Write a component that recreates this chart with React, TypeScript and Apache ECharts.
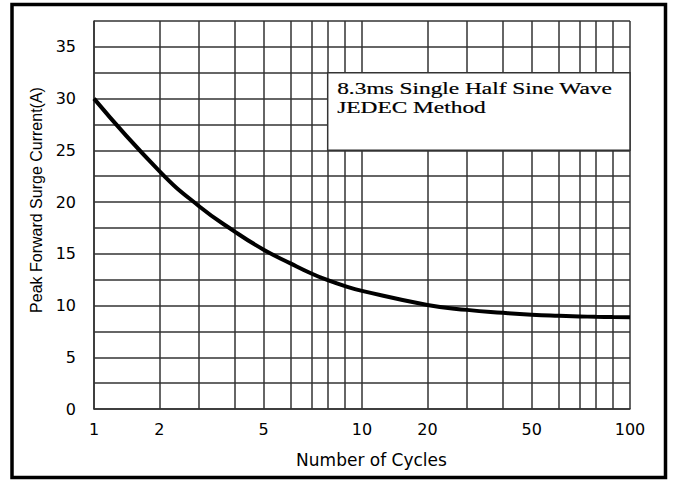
import React, { useEffect, useRef } from "react";
import * as echarts from "echarts";

// Number of cycles at which values were read (one per vertical grid line)
const cycles = [1, 2, 3, 4, 5, 6, 7, 8, 9, 10, 20, 30, 40, 50, 60, 70, 80, 90, 100];
// Peak forward surge current (A)
const surgeCurrent = [30, 23.0, 19.6, 17.15, 15.4, 14.05, 13.1, 12.45, 11.87, 11.42, 10.06, 9.58, 9.3, 9.12, 9.01, 8.95, 8.91, 8.88, 8.86];
// Labelled x ticks
const xTickLabels = [1, 2, 5, 10, 20, 50, 100];
// Y axis range / step
const yMin = 0;
const yMax = 37.5;
const yStep = 2.5;
const yLabelStep = 5;
// The printed chart's (non-ideal) logarithmic scale: where 1..10 sit within a decade
const decadeScale = [0, 0.244, 0.392, 0.525, 0.633, 0.735, 0.811, 0.872, 0.937, 1];

const noteLines = ["8.3ms Single Half Sine Wave", "JEDEC Method"];
const noteBox = { fromCycles: 8, toCycles: 100, fromA: 32.5, toA: 25 };

function toAxis(n: number): number {
  const d = Math.floor(Math.log10(n) + 1e-9);
  const base = Math.pow(10, d);
  const m = n / base;
  const i = Math.min(Math.floor(m + 1e-9), 9);
  const f = m - i;
  const lo = decadeScale[i - 1];
  const hi = decadeScale[i];
  return d + lo + (hi - lo) * f;
}

const GRID = "#333";

export default function App() {
  const ref = useRef<HTMLDivElement>(null);
  useEffect(() => {
    if (!ref.current) return;
    const chart = echarts.init(ref.current, null, { renderer: "svg" });
    const labelFont = { fontFamily: "DejaVu Sans", fontSize: 16, color: "#000" };
    chart.setOption({
      animation: false,
      backgroundColor: "#fff",
      grid: { left: 94, right: 43, top: 21, bottom: 73, containLabel: false },
      xAxis: {
        type: "value",
        min: 0,
        max: 2,
        name: "Number of Cycles",
        nameLocation: "middle",
        nameGap: 42,
        nameTextStyle: { fontFamily: "DejaVu Sans", fontSize: 17, color: "#000", padding: [0, 0, 0, 19] },
        axisLine: { show: true, lineStyle: { color: GRID, width: 1.5 } },
        axisTick: { show: false, customValues: cycles.map(toAxis) },
        axisLabel: {
          ...labelFont,
          margin: 12,
          customValues: xTickLabels.map(toAxis),
          formatter: (v: number) => {
            const c = xTickLabels.find((t) => Math.abs(toAxis(t) - v) < 1e-6);
            return c === undefined ? "" : String(c);
          },
        },
        splitLine: { show: true, lineStyle: { color: GRID, width: 1.5 } },
      },
      yAxis: {
        type: "value",
        min: yMin,
        max: yMax,
        interval: yStep,
        name: "Peak Forward Surge Current(A)",
        nameLocation: "middle",
        nameGap: 50,
        nameRotate: 90,
        nameTextStyle: { fontFamily: "Liberation Sans", fontSize: 16, color: "#000", padding: [0, 0, 0, 30] },
        axisLine: { show: true, lineStyle: { color: GRID, width: 1.5 } },
        axisTick: { show: false },
        axisLabel: {
          ...labelFont,
          margin: 18,
          formatter: (v: number) => (Math.abs(v % yLabelStep) < 1e-9 ? String(v) : ""),
        },
        splitLine: { show: true, lineStyle: { color: GRID, width: 1.5 } },
      },
      series: [
        {
          type: "line",
          data: cycles.map((c, i) => [toAxis(c), surgeCurrent[i]]),
          showSymbol: false,
          smooth: 0.5,
          lineStyle: { color: "#000", width: 4 },
          z: 5,
          markArea: {
            silent: true,
            itemStyle: { color: "#fff", borderColor: GRID, borderWidth: 1.5 },
            data: [
              [
                { xAxis: toAxis(noteBox.fromCycles), yAxis: noteBox.fromA },
                { xAxis: toAxis(noteBox.toCycles), yAxis: noteBox.toA },
              ],
            ],
          },
        },
      ],
    });
    const p = chart.convertToPixel({ gridIndex: 0 }, [toAxis(noteBox.fromCycles), noteBox.fromA]) as number[];
    chart.setOption({
      graphic: [
        {
          type: "rect",
          z: 100,
          shape: { x: 12, y: 4.5, width: 653.5, height: 473 },
          style: { fill: "none", stroke: "#000", lineWidth: 3.5 },
        },
        ...noteLines.map((t, i) => ({
          type: "text",
          z: 100,
          x: p[0] + 9.5,
          y: p[1] + 6.5 + i * 19,
          scaleX: 1.46,
          style: {
            text: t,
            fontFamily: "Liberation Serif",
            fontSize: 16,
            fill: "#000",
            stroke: "#000",
            lineWidth: 0.2,
            verticalAlign: "top",
            lineHeight: 19,
          },
        })),
      ],
    });
    return () => chart.dispose();
  }, []);
  return (
    <div
      ref={ref}
      style={{ position: "absolute", left: 0, top: 0, width: 673, height: 482, background: "#fff" }}
    />
  );
}
